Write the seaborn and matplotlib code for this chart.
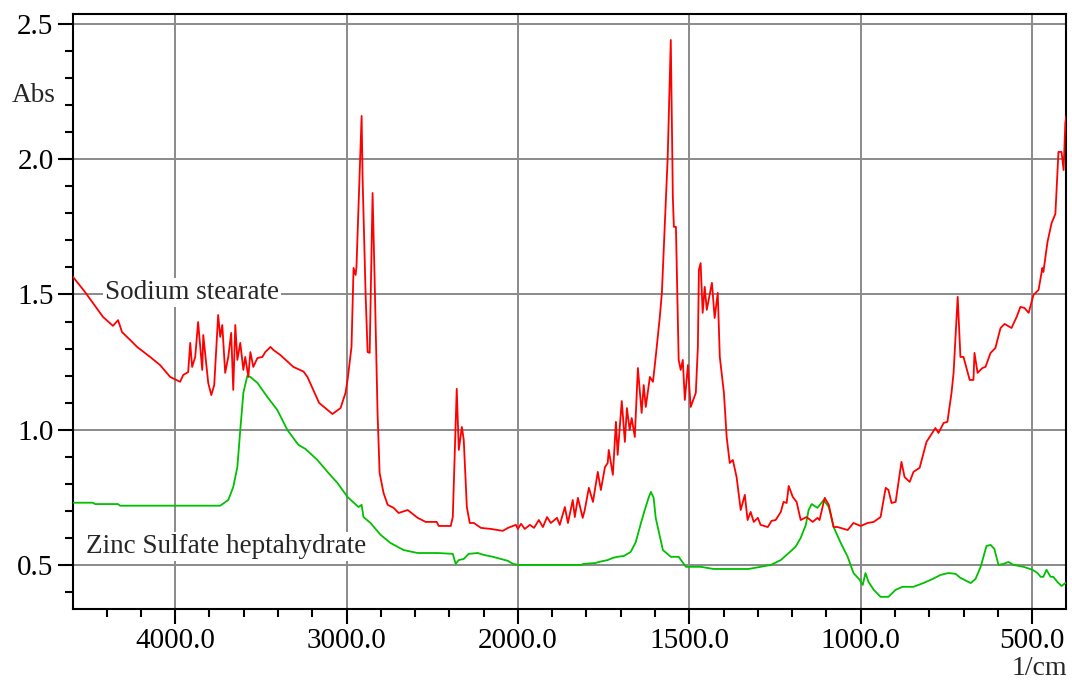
import numpy as np
import pandas as pd
import matplotlib
matplotlib.use("Agg")
import matplotlib.pyplot as plt
import seaborn as sns

# ---------------- data ----------------
stearate_wn = [4596, 4526, 4480, 4421, 4363, 4333, 4310, 4263, 4222, 4146, 4088, 4029, 3971, 3953, 3924,
               3912, 3901, 3883, 3866, 3842, 3836, 3813, 3807, 3789, 3772, 3749, 3737, 3725, 3708, 3690,
               3673, 3661, 3649, 3637, 3620, 3602, 3591, 3573, 3561, 3544, 3520, 3491, 3474, 3444, 3427,
               3386, 3310, 3251, 3228, 3160, 3082, 3035, 3006, 2994, 2971, 2959, 2947, 2942, 2912, 2906,
               2889, 2877, 2865, 2848, 2836, 2819, 2807, 2784, 2760, 2725, 2696, 2643, 2585, 2538, 2474,
               2462, 2392, 2380, 2357, 2345, 2327, 2316, 2298, 2281, 2257, 2216, 2158, 2088, 2058, 2012,
               2000, 1991, 1980, 1965, 1953, 1939, 1927, 1915, 1904, 1886, 1878, 1863, 1854, 1840, 1834,
               1825, 1811, 1805, 1793, 1781, 1767, 1758, 1746, 1738, 1735, 1723, 1714, 1709, 1697, 1688,
               1682, 1674, 1668, 1659, 1650, 1639, 1633, 1627, 1615, 1606, 1598, 1586, 1580, 1572, 1563,
               1554, 1548, 1545, 1539, 1531, 1525, 1519, 1513, 1504, 1496, 1481, 1475, 1472, 1467, 1461,
               1455, 1449, 1434, 1426, 1417, 1411, 1399, 1391, 1382, 1373, 1362, 1350, 1338, 1330, 1321,
               1312, 1300, 1292, 1271, 1260, 1248, 1233, 1225, 1216, 1210, 1198, 1187, 1175, 1158, 1140,
               1126, 1120, 1105, 1093, 1079, 1067, 1038, 1021, 1000, 980, 962, 942, 927, 919, 910,
               898, 881, 872, 857, 846, 828, 808, 782, 773, 758, 747, 735, 729, 717, 709,
               700, 682, 671, 668, 659, 645, 636, 621, 607, 592, 580, 560, 545, 534, 522,
               510, 496, 481, 470, 467, 455, 443, 432, 423, 414, 408, 403, 400]
stearate_abs = [1.565, 1.509, 1.469, 1.417, 1.384, 1.405, 1.361, 1.332, 1.306, 1.269, 1.239, 1.195, 1.177, 1.202, 1.213,
                1.321, 1.232, 1.269, 1.398, 1.221, 1.350, 1.210, 1.173, 1.128, 1.165, 1.424, 1.343, 1.387, 1.210, 1.269,
                1.358, 1.147, 1.387, 1.258, 1.321, 1.221, 1.269, 1.195, 1.287, 1.232, 1.265, 1.269, 1.287, 1.306, 1.295,
                1.276, 1.232, 1.215, 1.195, 1.099, 1.058, 1.080, 1.136, 1.184, 1.306, 1.598, 1.572, 1.602, 2.160, 1.923,
                1.506, 1.287, 1.284, 1.875, 1.554, 1.062, 0.840, 0.766, 0.722, 0.711, 0.692, 0.703, 0.674, 0.659, 0.659,
                0.644, 0.644, 0.677, 1.151, 0.925, 1.010, 0.962, 0.714, 0.655, 0.655, 0.637, 0.633, 0.626, 0.637, 0.648,
                0.633, 0.652, 0.633, 0.648, 0.637, 0.666, 0.640, 0.677, 0.655, 0.674, 0.648, 0.714, 0.655, 0.740, 0.677,
                0.748, 0.674, 0.703, 0.785, 0.733, 0.844, 0.777, 0.862, 0.877, 0.925, 0.833, 1.029, 0.907, 1.106, 0.955,
                1.080, 0.999, 1.043, 0.973, 1.228, 1.062, 1.165, 1.084, 1.195, 1.177, 1.269, 1.417, 1.506, 1.738, 2.008,
                2.441, 1.860, 1.750, 1.750, 1.258, 1.221, 1.258, 1.110, 1.239, 1.084, 1.136, 1.306, 1.591, 1.616, 1.432,
                1.528, 1.443, 1.543, 1.413, 1.506, 1.269, 1.136, 0.973, 0.877, 0.888, 0.825, 0.703, 0.759, 0.666, 0.696,
                0.659, 0.674, 0.648, 0.640, 0.663, 0.666, 0.696, 0.733, 0.729, 0.792, 0.751, 0.733, 0.666, 0.677, 0.659,
                0.674, 0.666, 0.748, 0.722, 0.640, 0.640, 0.629, 0.655, 0.644, 0.655, 0.659, 0.677, 0.785, 0.777, 0.729,
                0.733, 0.881, 0.825, 0.807, 0.844, 0.859, 0.955, 1.006, 0.988, 1.025, 1.029, 1.136, 1.210, 1.491, 1.269,
                1.269, 1.184, 1.184, 1.284, 1.210, 1.228, 1.232, 1.284, 1.302, 1.376, 1.391, 1.376, 1.417, 1.454, 1.450,
                1.432, 1.498, 1.517, 1.598, 1.583, 1.694, 1.764, 1.798, 2.027, 2.027, 1.960, 2.134, 2.160]

zinc_wn = [4596, 4480, 4468, 4333, 4322, 3737, 3690, 3661, 3637, 3620, 3602, 3579, 3561, 3520, 3462,
           3404, 3345, 3281, 3240, 3170, 3111, 3053, 2994, 2930, 2912, 2901, 2860, 2801, 2743, 2667,
           2585, 2468, 2380, 2363, 2345, 2316, 2287, 2234, 2199, 2146, 2099, 2058, 2029, 2000, 1816,
           1808, 1773, 1764, 1738, 1723, 1709, 1691, 1671, 1656, 1641, 1630, 1618, 1612, 1604, 1598,
           1577, 1554, 1531, 1510, 1467, 1429, 1327, 1292, 1262, 1233, 1210, 1190, 1175, 1160, 1152,
           1143, 1126, 1108, 1093, 1079, 1058, 1038, 1021, 1003, 994, 986, 977, 962, 942, 919,
           898, 878, 846, 817, 790, 767, 744, 723, 709, 679, 665, 650, 633, 621, 610,
           598, 583, 569, 554, 525, 499, 484, 475, 467, 458, 446, 438, 426, 414, 403]
zinc_abs = [0.730, 0.730, 0.725, 0.725, 0.719, 0.719, 0.740, 0.788, 0.862, 0.999, 1.136, 1.199, 1.195, 1.173, 1.121,
            1.073, 0.999, 0.944, 0.929, 0.888, 0.844, 0.803, 0.751, 0.714, 0.722, 0.677, 0.655, 0.611, 0.581, 0.555,
            0.544, 0.544, 0.541, 0.504, 0.518, 0.522, 0.541, 0.544, 0.537, 0.530, 0.522, 0.515, 0.504, 0.500, 0.500,
            0.504, 0.507, 0.511, 0.518, 0.526, 0.530, 0.533, 0.548, 0.585, 0.655, 0.703, 0.751, 0.770, 0.748, 0.674,
            0.555, 0.530, 0.530, 0.493, 0.493, 0.485, 0.485, 0.493, 0.500, 0.518, 0.544, 0.567, 0.600, 0.648, 0.703,
            0.725, 0.711, 0.740, 0.714, 0.640, 0.581, 0.530, 0.470, 0.445, 0.426, 0.470, 0.437, 0.408, 0.382, 0.382,
            0.408, 0.419, 0.419, 0.433, 0.448, 0.463, 0.470, 0.467, 0.452, 0.433, 0.448, 0.493, 0.570, 0.574, 0.559,
            0.500, 0.504, 0.511, 0.500, 0.493, 0.482, 0.470, 0.456, 0.456, 0.482, 0.456, 0.456, 0.437, 0.422, 0.433]

series_labels = ["Sodium stearate", "Zinc Sulfate heptahydrate"]
x_major = [4000.0, 3000.0, 2000.0, 1500.0, 1000.0, 500.0]
x_minor = [4400, 4200, 3800, 3600, 3400, 3200, 2800, 2600, 2400, 2200,
           1900, 1800, 1700, 1600, 1400, 1300, 1200, 1100, 900, 800, 700, 600]
y_major = [0.5, 1.0, 1.5, 2.0, 2.5]

# ---------------- style ----------------
sns.set_style("white")
plt.rcParams['font.family'] = ['Liberation Serif', 'DejaVu Serif']

fig = plt.figure(figsize=(10.72, 6.82), dpi=100)
ax = fig.add_axes([73/1072, 1-609/682, (1066-73)/1072, (609-14)/682])

def fwd(w):
    w = np.asarray(w, dtype=float)
    return np.where(w > 2000, 2000 + (w - 2000) / 2.0, w)

def inv(u):
    u = np.asarray(u, dtype=float)
    return np.where(u > 2000, 2000 + (u - 2000) * 2.0, u)

ax.set_xscale('function', functions=(fwd, inv))

df_red = pd.DataFrame({"wn": stearate_wn, "abs": stearate_abs})
df_green = pd.DataFrame({"wn": zinc_wn, "abs": zinc_abs})

sns.lineplot(data=df_green, x="wn", y="abs", ax=ax, color="#00C000", lw=1.3,
             sort=False, estimator=None, zorder=3)
sns.lineplot(data=df_red, x="wn", y="abs", ax=ax, color="#FF0000", lw=1.3,
             sort=False, estimator=None, zorder=4)

ax.set_xlim(4596, 401)
ax.set_ylim(0.337, 2.537)

ax.set_xticks(x_major)
ax.set_xticklabels([f"{v:.1f}" for v in x_major])
ax.set_xticks(x_minor, minor=True)
ax.set_yticks(y_major)
ax.set_yticklabels([f"{v:.1f}" for v in y_major])
ax.set_yticks(np.arange(0.4, 2.55, 0.1), minor=True)

ax.grid(True, which='major', color='#8a8a8a', lw=1.4, zorder=1)
ax.set_axisbelow(True)
for s in ax.spines.values():
    s.set_color('black')
    s.set_linewidth(1.5)

ax.tick_params(axis='both', which='major', direction='out', length=11, width=1.5,
               labelsize=21, color='black', labelcolor='black', pad=3,
               bottom=True, left=True, top=False, right=False)
ax.tick_params(axis='both', which='minor', direction='out', length=6, width=1.5,
               color='black', bottom=True, left=True, top=False, right=False)
ax.set_xlabel("")
ax.set_ylabel("")

bbox = dict(facecolor='white', edgecolor='none', pad=1.5)
ax.text(4409, 1.483, series_labels[0], fontsize=19.5, ha='left', va='baseline',
        bbox=bbox, zorder=2)
ax.text(4520, 0.544, series_labels[1], fontsize=19.5, ha='left', va='baseline',
        bbox=bbox, zorder=2)

fig.text(12/1072, 1-102/682, "Abs", fontsize=19.5, ha='left', va='baseline')
fig.text(1067/1072, 1-675/682, "1/cm", fontsize=20, ha='right', va='baseline')

fig.savefig("out.png", dpi=100)
